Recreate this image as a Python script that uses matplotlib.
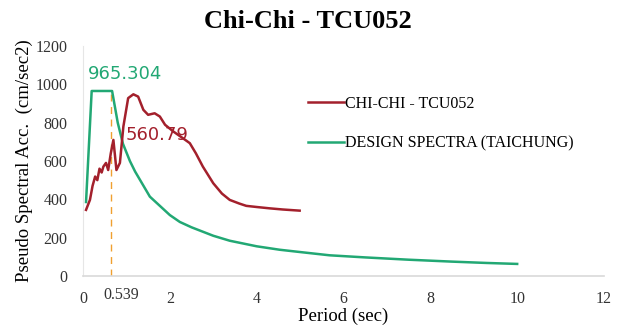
import matplotlib
matplotlib.use("Agg")
import matplotlib.pyplot as plt
from matplotlib.transforms import blended_transform_factory

# ---- data ----
rec_T = [0.07, 0.16, 0.22, 0.28, 0.33, 0.38, 0.43, 0.47, 0.53, 0.58, 0.64, 0.70, 0.77, 0.85,
         0.93, 1.04, 1.16, 1.27, 1.39, 1.50, 1.65, 1.77, 1.89, 2.08, 2.30, 2.46, 2.60,
         2.76, 3.00, 3.20, 3.38, 3.60, 3.76, 4.00, 4.30, 4.60, 4.99]
rec_Sa = [345, 397, 470, 519, 500, 560, 540, 571, 590, 553, 640, 710, 553, 590,
          780, 928, 948, 936, 867, 841, 849, 832, 789, 754, 719, 693, 640,
          571, 484, 430, 397, 378, 366, 360, 353, 347, 341]

des_T = [0.07, 0.2, 0.67, 0.8, 0.92, 1.08, 1.2, 1.54, 2.0, 2.23, 2.5, 3.0, 3.38, 4.0,
         4.53, 5.0, 5.68, 6.5, 7.5, 8.5, 9.3, 10.0]
des_Sa = [386, 965.304, 965.304, 800, 690, 600, 545, 414, 318, 282, 254, 210, 184, 155,
          137, 125, 108, 97, 85, 75, 68, 63]

peak_label = "965.304"
rec_label = "560.79"
mark_T = 0.64
mark_label = "0.539"
xticks = [0, 2, 4, 6, 8, 10, 12]
yticks = [0, 200, 400, 600, 800, 1000, 1200]

red = "#a3202c"
green = "#22a874"
serif = ["Liberation Serif", "DejaVu Serif"]

fig = plt.figure(figsize=(6.21, 3.29), dpi=100)
ax = fig.add_axes([83/621, 1-276/329, (604-83)/621, (276-46)/329])

ax.plot(rec_T, rec_Sa, color=red, lw=1.8, label="CHI-CHI - TCU052", zorder=3)
ax.plot(des_T, des_Sa, color=green, lw=1.8, label="DESIGN SPECTRA (TAICHUNG)", zorder=2)
ax.plot([mark_T, mark_T], [0, 965.304], color="#f0a030", lw=1.0, ls=(0, (5, 4)), zorder=1)

ax.text(0.12, 1005, peak_label, color=green, fontsize=13, family="DejaVu Sans", ha="left", va="bottom")
ax.text(0.99, 690, rec_label, color=red, fontsize=13, family="DejaVu Sans", ha="left", va="bottom")

ax.set_xlim(0, 12)
ax.set_ylim(0, 1200)
ax.set_xticks(xticks)
ax.set_xticklabels([str(t) for t in xticks])
ax.set_yticks(yticks)
ax.set_yticklabels([str(t) for t in yticks])
for lab in ax.get_xticklabels() + ax.get_yticklabels():
    lab.set_family(serif)
    lab.set_fontsize(11.5)
    lab.set_color("#333333")
ax.tick_params(axis="x", length=0, pad=11)
ax.tick_params(axis="y", length=0, pad=11)
trans = blended_transform_factory(ax.transData, ax.transAxes)
ax.text(0.89, -0.048, mark_label, transform=trans, ha="center", va="top",
        family=serif, fontsize=11.5, color="#333333")

for s in ["top", "right"]:
    ax.spines[s].set_visible(False)
ax.spines["left"].set_color("#e6e6e6")
ax.spines["bottom"].set_color("#d9d9d9")
ax.spines["bottom"].set_linewidth(1.2)

ax.set_xlabel("Period (sec)", family=serif, fontsize=13.5, labelpad=0)
ax.set_ylabel("Pseudo Spectral Acc.  (cm/sec2)", family=serif, fontsize=13.5, labelpad=2)
fig.text(308/621, 1-22/329, "Chi-Chi - TCU052", family=serif, fontweight="bold",
         fontsize=19, ha="center", va="center")

leg = ax.legend(loc="upper left", bbox_to_anchor=(0.405, 0.845), frameon=False,
                prop={"family": serif, "size": 11.5}, handlelength=2.2, handletextpad=0.1,
                labelspacing=1.45)

fig.savefig("out.png", dpi=100)
